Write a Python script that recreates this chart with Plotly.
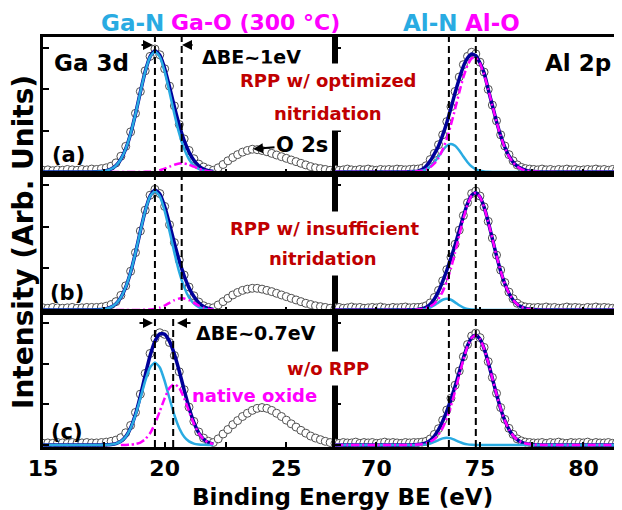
import plotly.graph_objects as go
from plotly.subplots import make_subplots

# ---------------- data ----------------
panels = ["(a)", "(b)", "(c)"]
sample_text = ["RPP w/ optimized|nitridation", "RPP w/ insufficient|nitridation", "w/o RPP"]

# measured points (open circles)
ga_x = [round(15.0 + 0.2 * i, 1) for i in range(61)]
al_x = [round(68.0 + 0.2 * i, 1) for i in range(70)]

ga_pts_a = [0.04, 0.05, 0.03, 0.05, 0.04, 0.06, 0.05, 0.04, 0.06, 0.05, 0.07,
            0.06, 0.08, 0.10, 0.14, 0.22, 0.38, 0.62, 0.97, 1.42, 1.95, 2.45, 2.80, 2.98, 2.84, 2.50,
            2.08, 1.60, 1.15, 0.80, 0.52, 0.32, 0.19, 0.12, 0.07,
            0.04, 0.10, 0.18, 0.27, 0.35, 0.42, 0.48, 0.52, 0.55, 0.54, 0.52, 0.49, 0.45, 0.41, 0.37,
            0.33, 0.29, 0.25, 0.21, 0.17, 0.13, 0.10, 0.08, 0.06, 0.04, 0.03]
ga_pts_b = [0.05, 0.04, 0.06, 0.05, 0.04, 0.05, 0.06, 0.04, 0.05, 0.06, 0.06,
            0.06, 0.07, 0.09, 0.13, 0.20, 0.35, 0.58, 0.93, 1.38, 1.90, 2.40, 2.76, 2.90, 2.80, 2.49,
            2.05, 1.62, 1.20, 0.84, 0.55, 0.34, 0.19, 0.10, 0.06,
            0.05, 0.12, 0.20, 0.28, 0.36, 0.42, 0.47, 0.50, 0.52, 0.52, 0.50, 0.47, 0.44, 0.40, 0.36,
            0.32, 0.28, 0.24, 0.20, 0.16, 0.13, 0.10, 0.08, 0.06, 0.04, 0.03]
ga_pts_c = [0.04, 0.05, 0.04, 0.06, 0.05, 0.04, 0.06, 0.05, 0.05, 0.06, 0.05,
            0.05, 0.06, 0.07, 0.09, 0.12, 0.18, 0.30, 0.48, 0.80, 1.25, 1.76, 2.25, 2.62, 2.76, 2.72,
            2.52, 2.20, 1.80, 1.36, 0.93, 0.58, 0.32, 0.17, 0.09,
            0.06, 0.15, 0.27, 0.38, 0.50, 0.60, 0.70, 0.78, 0.85, 0.90, 0.92, 0.90, 0.85, 0.78, 0.70,
            0.61, 0.52, 0.44, 0.36, 0.29, 0.22, 0.17, 0.13, 0.09, 0.06, 0.04]

al_pts_a = [0.06, 0.04, 0.05, 0.07, 0.05, 0.04, 0.06, 0.05, 0.07, 0.05, 0.04, 0.06, 0.05, 0.06, 0.05, 0.07, 0.06, 0.05, 0.06, 0.07,
            0.07, 0.09, 0.15, 0.30, 0.45, 0.66, 0.90, 1.22, 1.58, 1.95, 2.30, 2.60, 2.80, 2.90, 2.86, 2.66, 2.42, 2.00, 1.62,
            1.24, 0.90, 0.63, 0.42, 0.27, 0.17, 0.11, 0.08, 0.07, 0.06,
            0.05, 0.07, 0.05, 0.06, 0.04, 0.06, 0.05, 0.07, 0.05, 0.06, 0.04, 0.05, 0.06, 0.05, 0.07, 0.05, 0.06, 0.04, 0.06, 0.05, 0.06]
al_pts_b = [0.05, 0.06, 0.04, 0.05, 0.07, 0.05, 0.06, 0.04, 0.05, 0.06, 0.05, 0.07, 0.05, 0.04, 0.06, 0.05, 0.06, 0.07, 0.05, 0.06,
            0.06, 0.07, 0.10, 0.17, 0.30, 0.47, 0.70, 0.97, 1.27, 1.58, 1.92, 2.27, 2.58, 2.80, 2.86, 2.74, 2.48, 2.13, 1.73,
            1.32, 0.96, 0.66, 0.43, 0.27, 0.16, 0.10, 0.07, 0.06, 0.05,
            0.06, 0.05, 0.07, 0.05, 0.06, 0.04, 0.05, 0.07, 0.05, 0.06, 0.05, 0.04, 0.06, 0.05, 0.07, 0.05, 0.06, 0.05, 0.04, 0.06, 0.07]
al_pts_c = [0.05, 0.04, 0.06, 0.05, 0.05, 0.07, 0.04, 0.06, 0.05, 0.06, 0.04, 0.05, 0.07, 0.05, 0.06, 0.05, 0.04, 0.06, 0.05, 0.06,
            0.06, 0.07, 0.09, 0.15, 0.26, 0.40, 0.61, 0.86, 1.15, 1.47, 1.82, 2.17, 2.47, 2.68, 2.75, 2.64, 2.40, 2.05, 1.66,
            1.27, 0.92, 0.63, 0.41, 0.26, 0.15, 0.10, 0.07, 0.06, 0.05,
            0.05, 0.06, 0.04, 0.06, 0.05, 0.07, 0.05, 0.04, 0.06, 0.05, 0.06, 0.05, 0.07, 0.04, 0.06, 0.05, 0.05, 0.06, 0.04, 0.06, 0.05]

# fitted curves, Ga 3d region
ga_fit_x = [15.0, 16.0] + [round(17.0 + 0.2 * i, 1) for i in range(26)]
ga_env_a = [0, 0, 0.001, 0.004, 0.011, 0.029, 0.071, 0.154, 0.308, 0.559, 0.927, 1.401, 1.932, 2.432, 2.796, 2.939,
            2.831, 2.509, 2.059, 1.576, 1.133, 0.765, 0.483, 0.281, 0.150, 0.071, 0.030, 0.011]
ga_n_a = [0, 0, 0.001, 0.004, 0.011, 0.029, 0.071, 0.154, 0.308, 0.559, 0.927, 1.401, 1.932, 2.430, 2.789, 2.920,
          2.789, 2.430, 1.932, 1.401, 0.927, 0.559, 0.308, 0.154, 0.071, 0.029, 0.011, 0.004]
ga_o_a = [None] * 6 + [0, 0, 0, 0, 0, 0, 0, 0.002, 0.007, 0.019, 0.042, 0.079, 0.127, 0.175, 0.206, 0.206,
                       0.175, 0.127, 0.079, 0.042, 0.019, 0.007]
ga_env_b = [0, 0, 0.001, 0.004, 0.011, 0.029, 0.069, 0.151, 0.301, 0.548, 0.907, 1.372, 1.892, 2.383, 2.741, 2.885,
            2.787, 2.485, 2.062, 1.606, 1.181, 0.822, 0.535, 0.321, 0.174, 0.084, 0.036, 0.013]
ga_n_b = [0, 0, 0.001, 0.004, 0.011, 0.029, 0.069, 0.151, 0.301, 0.548, 0.907, 1.372, 1.892, 2.380, 2.732, 2.860,
          2.732, 2.380, 1.892, 1.372, 0.907, 0.548, 0.301, 0.151, 0.069, 0.029, 0.011, 0.004]
ga_o_b = [None] * 7 + [0, 0, 0, 0, 0, 0, 0.003, 0.009, 0.025, 0.055, 0.105, 0.170, 0.234, 0.274, 0.274,
                       0.234, 0.170, 0.105, 0.055, 0.025, 0.009]
ga_env_c = [0, 0, 0, 0, 0.001, 0.003, 0.012, 0.034, 0.089, 0.206, 0.419, 0.754, 1.202, 1.712, 2.192, 2.551,
            2.732, 2.724, 2.547, 2.232, 1.816, 1.355, 0.916, 0.555, 0.299, 0.142, 0.060, 0.022]
ga_n_c = [0, 0, 0, 0, 0.001, 0.003, 0.012, 0.034, 0.089, 0.204, 0.412, 0.732, 1.143, 1.573, 1.905, 2.030,
          1.905, 1.573, 1.143, 0.732, 0.412, 0.204, 0.089, 0.034, 0.012, 0.003, 0.001, 0]
ga_o_c = [None] * 8 + [0, 0.002, 0.007, 0.022, 0.059, 0.139, 0.287, 0.521, 0.827, 1.151, 1.404, 1.500,
                       1.404, 1.151, 0.827, 0.521, 0.287, 0.139, 0.059, 0.022]

# fitted curves, Al 2p region
al_fit_x = [68.0, 70.0, 71.0] + [round(71.6 + 0.2 * i, 1) for i in range(31)] + [78.0, 79.0, 80.0, 81.9]
al_env_a = [0, 0, 0, 0.003, 0.008, 0.02, 0.06, 0.14, 0.27, 0.44, 0.63, 0.89, 1.20, 1.55, 1.92, 2.26, 2.56, 2.76,
            2.86, 2.82, 2.64, 2.40, 2.00, 1.61, 1.22, 0.88, 0.60, 0.39, 0.24, 0.14, 0.08, 0.04, 0.02, 0.01, 0, 0, 0, 0]
al_n_a = [0, 0, 0, 0.001, 0.003, 0.010, 0.027, 0.063, 0.130, 0.236, 0.375, 0.522, 0.636, 0.680, 0.636, 0.522,
          0.375, 0.236, 0.130, 0.063, 0.027, 0.010, 0.003, 0.001] + [0] * 14
al_o_a = [0, 0, 0, 0.003, 0.007, 0.015, 0.031, 0.061, 0.115, 0.204, 0.341, 0.541, 0.809, 1.143, 1.526, 1.925,
          2.295, 2.585, 2.752, 2.767, 2.630, 2.361, 2.003, 1.606, 1.216, 0.870, 0.589, 0.376, 0.227, 0.130,
          0.070, 0.036, 0.017, 0.008, 0.001, 0, 0, 0]
al_env_b = [0, 0, 0, 0.002, 0.004, 0.011, 0.028, 0.065, 0.138, 0.264, 0.449, 0.686, 0.954, 1.247, 1.563, 1.905,
            2.252, 2.556, 2.761, 2.822, 2.720, 2.473, 2.119, 1.710, 1.301, 0.933, 0.630, 0.401, 0.240, 0.136,
            0.072, 0.036, 0.017, 0.008, 0.001, 0, 0, 0]
al_n_b = [0, 0, 0, 0, 0, 0.002, 0.008, 0.023, 0.056, 0.111, 0.182, 0.245, 0.270, 0.245, 0.182, 0.111, 0.056,
          0.023, 0.008, 0.002] + [0] * 18
al_o_b = [0, 0, 0, 0.002, 0.004, 0.009, 0.020, 0.042, 0.082, 0.153, 0.267, 0.441, 0.684, 1.002, 1.381, 1.794,
          2.196, 2.533, 2.753, 2.820, 2.720, 2.473, 2.119, 1.710, 1.301, 0.933, 0.630, 0.401, 0.240, 0.136,
          0.072, 0.036, 0.017, 0.008, 0.001, 0, 0, 0]
al_env_c = [0, 0, 0, 0.002, 0.004, 0.010, 0.024, 0.055, 0.116, 0.220, 0.377, 0.585, 0.835, 1.122, 1.443, 1.792,
            2.139, 2.440, 2.641, 2.701, 2.604, 2.368, 2.029, 1.637, 1.246, 0.893, 0.603, 0.384, 0.230, 0.130,
            0.069, 0.034, 0.016, 0.008, 0.001, 0, 0, 0]
al_n_c = [0, 0, 0, 0, 0, 0.001, 0.005, 0.015, 0.037, 0.074, 0.121, 0.163, 0.180, 0.163, 0.121, 0.074, 0.037,
          0.015, 0.005, 0.001] + [0] * 18
al_o_c = [0, 0, 0, 0.002, 0.004, 0.009, 0.019, 0.040, 0.079, 0.146, 0.256, 0.422, 0.655, 0.959, 1.322, 1.718,
          2.102, 2.425, 2.636, 2.700, 2.604, 2.368, 2.029, 1.637, 1.246, 0.893, 0.603, 0.384, 0.230, 0.130,
          0.069, 0.034, 0.016, 0.008, 0.001, 0, 0, 0]

# reference peak positions (eV)
ga_n_pos = [19.6, 19.6, 19.6]
ga_o_pos = [20.7, 20.7, 20.35]
al_n_pos = [73.5, 73.5, 73.5]
al_o_pos = [74.8, 74.8, 74.8]

ga_ticks = [15, 17.5, 20, 22.5, 25]
ga_ticktext = ["15", "", "20", "", "25"]
al_ticks = [70, 72.5, 75, 77.5, 80]
al_ticktext = ["70", "", "75", "", "80"]

# ---------------- figure ----------------
OFF = 8                      # page body margin offset
W, H = 622 - OFF, 510 - OFF
ML, MR, MT, MB = 43 - OFF, 0, 37 - OFF, 63
PW, PH = W - ML - MR, H - MT - MB
FONT = "DejaVu Sans"
C_ENV = "#000099"
C_N = "#29ABE2"
C_O = "#FF00FF"
C_RED = "#C00000"


def px(x):
    return (x - OFF - ML) / PW


def py(y):
    return (H - MB - (y - OFF)) / PH


fig = make_subplots(rows=3, cols=2, column_widths=[292, 287], row_heights=[137, 138, 135],
                    horizontal_spacing=0, vertical_spacing=0)

ga_pts = [ga_pts_a, ga_pts_b, ga_pts_c]
ga_env = [ga_env_a, ga_env_b, ga_env_c]
ga_n = [ga_n_a, ga_n_b, ga_n_c]
ga_o = [ga_o_a, ga_o_b, ga_o_c]
al_pts = [al_pts_a, al_pts_b, al_pts_c]
al_env = [al_env_a, al_env_b, al_env_c]
al_n = [al_n_a, al_n_b, al_n_c]
al_o = [al_o_a, al_o_b, al_o_c]

marker = dict(symbol="circle", size=8, color="white", line=dict(color="#505050", width=1))
dashdot = "8px,3px,2px,3px"

for i in range(3):
    r = i + 1
    # Ga 3d
    fig.add_trace(go.Scatter(x=ga_x, y=ga_pts[i], mode="markers", marker=marker), row=r, col=1)
    fig.add_trace(go.Scatter(x=ga_fit_x, y=ga_env[i], mode="lines", line=dict(color=C_ENV, width=3.5, shape="spline", smoothing=0.5)), row=r, col=1)
    fig.add_trace(go.Scatter(x=ga_fit_x, y=ga_n[i], mode="lines", line=dict(color=C_N, width=2.5, shape="spline", smoothing=0.5)), row=r, col=1)
    fig.add_trace(go.Scatter(x=ga_fit_x, y=ga_o[i], mode="lines", line=dict(color=C_O, width=2.5, dash=dashdot, shape="spline", smoothing=0.5)), row=r, col=1)
    # Al 2p
    fig.add_trace(go.Scatter(x=al_x, y=al_pts[i], mode="markers", marker=marker), row=r, col=2)
    fig.add_trace(go.Scatter(x=al_fit_x, y=al_env[i], mode="lines", line=dict(color=C_ENV, width=3.5, shape="spline", smoothing=0.5)), row=r, col=2)
    fig.add_trace(go.Scatter(x=al_fit_x, y=al_n[i], mode="lines", line=dict(color=C_N, width=2.5, shape="spline", smoothing=0.5)), row=r, col=2)
    fig.add_trace(go.Scatter(x=al_fit_x, y=al_o[i], mode="lines", line=dict(color=C_O, width=2.5, dash=dashdot, shape="spline", smoothing=0.5)), row=r, col=2)
    # reference dashed lines
    for v in (ga_n_pos[i], ga_o_pos[i]):
        fig.add_vline(x=v, row=r, col=1, layer="above", line=dict(color="black", width=2, dash="7px,4px"))
    for v in (al_n_pos[i], al_o_pos[i]):
        fig.add_vline(x=v, row=r, col=2, layer="above", line=dict(color="black", width=2, dash="7px,4px"))

axis_common = dict(showline=True, linecolor="black", linewidth=2.5, ticks="inside", tickcolor="black",
                   tickwidth=2, showgrid=False, zeroline=False)
tickfont = dict(family=FONT, size=22, color="black", weight="bold")
for i in range(3):
    r = i + 1
    last = (r == 3)
    fig.update_xaxes(axis_common, row=r, col=1, range=[15, 27], mirror=True, ticklen=5,
                     tickvals=ga_ticks, ticktext=ga_ticktext, showticklabels=last, tickfont=tickfont)
    fig.update_xaxes(axis_common, row=r, col=2, range=[68, 81.86], mirror=True, ticklen=5,
                     tickvals=al_ticks, ticktext=al_ticktext, showticklabels=last, tickfont=tickfont)
    fig.update_yaxes(axis_common, row=r, col=1, range=[-0.05, 3.27], mirror=True, ticklen=6,
                     tickvals=[0, 1, 2, 3], showticklabels=False)
    fig.update_yaxes(axis_common, row=r, col=2, range=[-0.05, 3.27], mirror=False, ticklen=6,
                     tickvals=[0, 1, 2, 3], showticklabels=False)

ann = []


def text(t, x, y, size, color="black", bg=None, pad=1, angle=0):
    d = dict(text="<b>" + t + "</b>", x=px(x), y=py(y), xref="paper", yref="paper", showarrow=False,
             xanchor="center", yanchor="middle", font=dict(family=FONT, size=size, color=color),
             borderpad=pad, textangle=angle)
    if bg:
        d["bgcolor"] = bg
    ann.append(d)


def arrow(x_tail, x_head, y):
    ann.append(dict(text="", x=px(x_head), y=py(y), xref="paper", yref="paper", showarrow=True,
                    ax=x_tail - x_head, ay=0, arrowhead=2, arrowsize=1, arrowwidth=2, arrowcolor="black",
                    standoff=0, startstandoff=0))


text("Ga-N", 132, 23, 23, C_N)
text("Ga-O (300 °C)", 256, 23, 22, C_O)
text("Al-N", 430, 23, 23, C_N)
text("Al-O", 492, 23, 23, C_O)
text("Ga 3d", 91, 63, 23)
text("Al 2p", 578, 63, 23)
text("ΔBE~1eV", 251, 57, 19)
text("ΔBE~0.7eV", 256, 333, 19)
arrow(140, 153, 45)
arrow(194, 182, 45)
arrow(138, 153, 323)
arrow(192, 177, 323)
text(panels[0], 68, 155, 21)
text(panels[1], 67, 293, 21)
text(panels[2], 67, 432, 21)
l1, l2 = sample_text[0].split("|")
text(l1, 328, 80, 18, C_RED, bg="white", pad=6)
text(l2, 328, 113, 18, C_RED, bg="white", pad=6)
l1, l2 = sample_text[1].split("|")
text(l1, 324, 228, 18, C_RED, bg="white", pad=6)
text(l2, 323, 258, 18, C_RED, bg="white", pad=6)
text(sample_text[2], 328, 368, 18, C_RED, bg="white", pad=6)
text("native oxide", 254, 395, 18, C_O)
# O 2s with arrow
ann.append(dict(text="<b>O 2s</b>", x=px(253), y=py(149), xref="paper", yref="paper", showarrow=True,
                ax=49, ay=-4, arrowhead=2, arrowsize=1, arrowwidth=2, arrowcolor="black",
                font=dict(family=FONT, size=21, color="black")))
text("Binding Energy BE (eV)", 342, 497, 23)
text("Intensity (Arb. Units)", 23, 242, 28, angle=-90)

fig.update_layout(width=W, height=H, margin=dict(l=ML, r=MR, t=MT, b=MB), showlegend=False,
                  plot_bgcolor="white", paper_bgcolor="white", annotations=ann,
                  font=dict(family=FONT, color="black"))

fig.write_html("out.html")
